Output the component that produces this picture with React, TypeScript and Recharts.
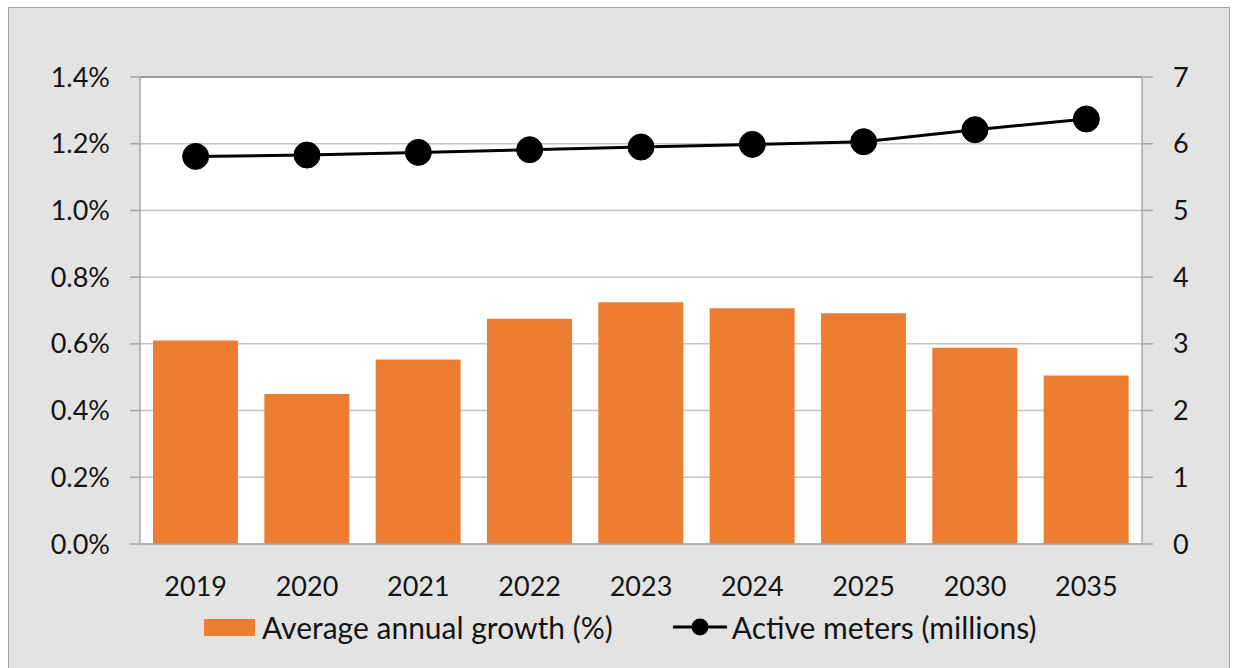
import { ComposedChart, Bar, Line, XAxis, YAxis, CartesianGrid, ReferenceLine } from "recharts";

const years = ["2019", "2020", "2021", "2022", "2023", "2024", "2025", "2030", "2035"];
// average annual growth, in percent
const growthPct = [0.61, 0.45, 0.553, 0.675, 0.725, 0.707, 0.692, 0.588, 0.505];
// active meters, in millions
const activeMeters = [5.81, 5.83, 5.87, 5.91, 5.95, 5.99, 6.03, 6.21, 6.37];
const pctTicks = [0, 0.2, 0.4, 0.6, 0.8, 1.0, 1.2, 1.4];
const meterTicks = [0, 1, 2, 3, 4, 5, 6, 7];

const growthName = "Average annual growth (%)";
const metersName = "Active meters (millions)";

const data = years.map((year, i) => ({
  year,
  growth: growthPct[i],
  meters: activeMeters[i],
}));

const ORANGE = "#ED7D31";
const AXIS = "#a6a6a6";
const GRID = "#c4c4c4";
const TEXT = "#141414";
const FONT = "Lato, 'Open Sans', sans-serif";

const tickStyle = { fill: TEXT, fontSize: 27, fontFamily: FONT };

export default function App() {
  return (
    <div style={{ position: "relative", width: 1233, height: 668, overflow: "hidden", fontFamily: FONT }}>
      <style>{`body{margin:0}`}</style>
      {/* chart frame */}
      <div
        style={{
          position: "absolute",
          left: 8,
          top: 7,
          width: 1222,
          height: 700,
          background: "#e3e3e3",
          border: "1.5px solid #a3a3a3",
          boxSizing: "border-box",
        }}
      />
      <div style={{ position: "absolute", left: 0, top: 0 }}>
        <ComposedChart
          width={1233}
          height={668}
          data={data}
          margin={{ top: 77, right: 0, bottom: 64, left: 0 }}
        >
          <CartesianGrid
            yAxisId="pct"
            vertical={false}
            stroke={GRID}
            strokeWidth={1.5}
            fill="#ffffff"
            fillOpacity={1}
          />
          <XAxis
            dataKey="year"
            height={60}
            tickLine={false}
            tickSize={0}
            tickMargin={33}
            axisLine={{ stroke: AXIS, strokeWidth: 1.5 }}
            tick={tickStyle}
            interval={0}
          />
          <YAxis
            yAxisId="pct"
            orientation="left"
            width={140}
            domain={[0, 1.4]}
            ticks={pctTicks}
            tickFormatter={(v: number) => `${v.toFixed(1)}%`}
            tickSize={10}
            tickMargin={20}
            tickLine={{ stroke: AXIS, strokeWidth: 1.5 }}
            axisLine={{ stroke: AXIS, strokeWidth: 1.5 }}
            tick={tickStyle}
            interval={0}
          />
          <YAxis
            yAxisId="meters"
            orientation="right"
            width={91}
            domain={[0, 7]}
            ticks={meterTicks}
            tickSize={11}
            tickMargin={20}
            tickLine={{ stroke: AXIS, strokeWidth: 1.5 }}
            axisLine={{ stroke: AXIS, strokeWidth: 1.5 }}
            tick={tickStyle}
            interval={0}
          />
          <ReferenceLine yAxisId="pct" y={1.4} stroke="#8a8a8a" strokeWidth={1.5} />
          <Bar
            yAxisId="pct"
            dataKey="growth"
            name={growthName}
            fill={ORANGE}
            barSize={85}
            isAnimationActive={false}
          />
          <Line
            yAxisId="meters"
            dataKey="meters"
            name={metersName}
            stroke="#000000"
            strokeWidth={3}
            dot={{ r: 13, fill: "#000000", stroke: "#000000", strokeWidth: 1 }}
            activeDot={false}
            isAnimationActive={false}
          />
        </ComposedChart>
      </div>
      {/* legend */}
      <div
        style={{
          position: "absolute",
          left: 204,
          top: 609,
          height: 36,
          display: "flex",
          alignItems: "center",
          fontSize: 30,
          color: TEXT,
          whiteSpace: "nowrap",
        }}
      >
        <span style={{ width: 51, height: 17, background: ORANGE, display: "inline-block", marginRight: 7 }} />
        <span>{growthName}</span>
        <svg width={54} height={22} style={{ marginLeft: 60, marginRight: 5 }}>
          <line x1={0} y1={11} x2={54} y2={11} stroke="#000" strokeWidth={3} />
          <circle cx={27} cy={11} r={8.5} fill="#000" />
        </svg>
        <span>{metersName}</span>
      </div>
    </div>
  );
}
